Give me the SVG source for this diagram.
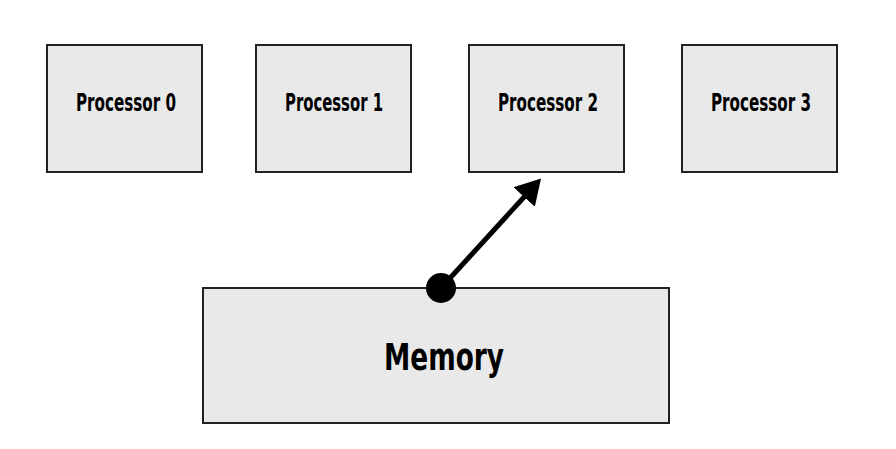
<svg xmlns="http://www.w3.org/2000/svg" width="896" height="449" viewBox="0 0 896 449">
<defs>
<style>
.box{fill:#e9e9e9;stroke:#222;stroke-width:2}
.lbl{font-family:"Liberation Sans Narrow","DejaVu Sans Condensed","Liberation Sans",sans-serif;font-weight:bold;fill:#000;text-anchor:middle}
.conn{stroke:#000;stroke-width:5;fill:none}
</style>
<marker id="head" markerUnits="userSpaceOnUse" viewBox="0 -15 26 30" refX="5" refY="0" markerWidth="26" markerHeight="30" orient="auto">
<path d="M0,-14.5 L25,0 L0,14.5 z" fill="#000"/>
</marker>
</defs>
<rect width="896" height="449" fill="#fff"/>
<g id="p0"><rect class="box" x="47" y="45" width="155" height="127"/><text class="lbl" x="126" y="111" font-size="24" textLength="100" lengthAdjust="spacingAndGlyphs">Processor 0</text></g>
<g id="p1"><rect class="box" x="256" y="45" width="155" height="127"/><text class="lbl" x="334" y="111" font-size="24" textLength="98" lengthAdjust="spacingAndGlyphs">Processor 1</text></g>
<g id="p2"><rect class="box" x="469" y="45" width="155" height="127"/><text class="lbl" x="548" y="111" font-size="24" textLength="100" lengthAdjust="spacingAndGlyphs">Processor 2</text></g>
<g id="p3"><rect class="box" x="682" y="45" width="155" height="127"/><text class="lbl" x="761" y="111" font-size="24" textLength="100" lengthAdjust="spacingAndGlyphs">Processor 3</text></g>
<g id="memory"><rect class="box" x="203" y="288" width="466" height="135"/><text class="lbl" x="444" y="370" font-size="37" textLength="120" lengthAdjust="spacingAndGlyphs">Memory</text></g>
<g id="connectors">
<line class="conn" x1="441" y1="288" x2="527.5" y2="193.3" marker-end="url(#head)"/>
<circle cx="441" cy="288" r="15" fill="#000"/>
</g>
</svg>
